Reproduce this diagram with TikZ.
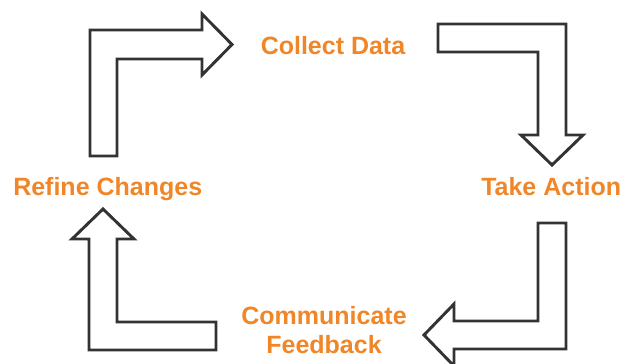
\documentclass[tikz,border=0pt]{standalone}
\usepackage{fontspec}
\setmainfont{Liberation Sans}
\usepackage{tikz}

\definecolor{labelorange}{RGB}{240,134,40}
\definecolor{arrowgray}{RGB}{51,51,51}

\begin{document}
\begin{tikzpicture}[x=0.75pt,y=0.75pt,yscale=-1,xscale=1,
    blockarrow/.style={draw=arrowgray, line width=2.2pt, line join=miter, fill=white},
    steplabel/.style={text=labelorange, inner sep=0.75pt,
        font=\bfseries\fontsize{18.75}{21.75}\selectfont}]
    \useasboundingbox (0,0) rectangle (621,364);

    %Shape: Bent Arrow, up then right
    \draw [blockarrow] (90,156) -- (90,30) -- (202,30) -- (202,14) -- (232,44.5) -- (202,75) -- (202,59) -- (117,59) -- (117,156) -- cycle ;
    %Shape: Bent Arrow, right then down
    \draw [blockarrow] (438,24) -- (566,24) -- (566,135) -- (583,135) -- (552,165) -- (521,135) -- (538,135) -- (538,52) -- (438,52) -- cycle ;
    %Shape: Bent Arrow, down then left
    \draw [blockarrow] (566,223) -- (566,349) -- (454,349) -- (454,366) -- (424,335) -- (454,304) -- (454,321) -- (538,321) -- (538,223) -- cycle ;
    %Shape: Bent Arrow, left then up
    \draw [blockarrow] (216,350) -- (89,350) -- (89,239) -- (72,239) -- (103,209) -- (134,239) -- (117,239) -- (117,322) -- (216,322) -- cycle ;

    % Text Node
    \node [steplabel, anchor=base] (collect) at (333,54) {Collect Data};
    % Text Node
    \node [steplabel, anchor=base west] (action) at (480,195) {Take Action};
    % Text Node
    \node [steplabel, anchor=base west] (refine) at (12,195) {Refine Changes};
    % Text Node (base is the last line)
    \node [steplabel, anchor=base, align=center] (feedback) at (324,353) {Communicate\\Feedback};
\end{tikzpicture}
\end{document}
